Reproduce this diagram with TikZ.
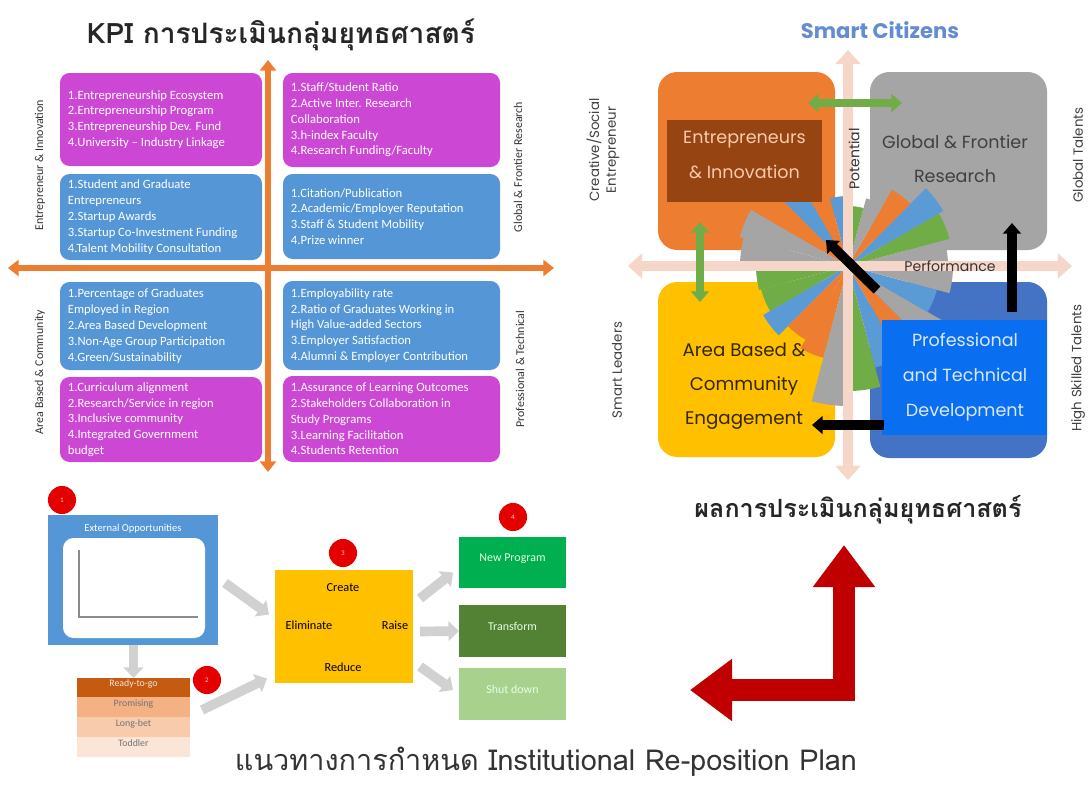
\documentclass[tikz,border=0pt]{standalone}
\usepackage{fontspec}
\setmainfont{Carlito}
\newfontfamily\thaifont[Script=Thai]{Loma}
\newfontfamily\geofont{Poppins}
\usetikzlibrary{positioning,arrows.meta,fit,calc}

\definecolor{kpimag}{RGB}{204,72,212}
\definecolor{kpiblue}{RGB}{84,150,214}
\definecolor{axorange}{RGB}{237,125,49}
\definecolor{qorange}{RGB}{237,125,49}
\definecolor{qgray}{RGB}{165,165,165}
\definecolor{qyellow}{RGB}{255,192,0}
\definecolor{qblue}{RGB}{68,114,196}
\definecolor{qgreen}{RGB}{112,173,71}
\definecolor{wblue}{RGB}{91,155,213}
\definecolor{brownbox}{RGB}{150,68,18}
\definecolor{brightblue}{RGB}{10,110,240}
\definecolor{paleaxis}{RGB}{246,214,200}
\definecolor{darkred}{RGB}{192,0,0}
\definecolor{rowA}{RGB}{197,90,17}
\definecolor{rowB}{RGB}{244,177,131}
\definecolor{rowC}{RGB}{248,203,173}
\definecolor{rowD}{RGB}{251,229,214}
\definecolor{gNew}{RGB}{0,176,80}
\definecolor{gTrans}{RGB}{84,130,53}
\definecolor{gShut}{RGB}{169,209,142}
\definecolor{citizenblue}{RGB}{100,140,210}

\begin{document}
\begin{tikzpicture}[x=0.02cm, y=-0.02cm,
  every node/.style={inner sep=0pt, outer sep=0pt},
  kpibox/.style={rounded corners=5.5pt, inner sep=0pt},
  kpitext/.style={anchor=west, align=left, text=white,
                  font=\fontsize{7.2}{9}\selectfont},
  sidelabel/.style={rotate=90, text=black!80, font=\fontsize{6.8}{8}\selectfont},
  rightlabel/.style={rotate=90, align=center, text=black!75,
                     font=\geofont\fontsize{7.6}{9.5}\selectfont},
  quad/.style={rounded corners=11pt, inner sep=0pt},
  orangeaxis/.style={draw=axorange, line width=3.4pt, <->,
                     >={Triangle[width=9pt,length=6pt]}},
  paleaxisline/.style={draw=paleaxis, line width=5.5pt, <->,
                       >={Triangle[width=14pt,length=8pt]}},
  greenarrow/.style={draw=qgreen, line width=5pt, <->,
                     >={Triangle[width=10pt,length=6pt]}},
  blackarrow/.style={draw=black, line width=5.5pt, ->,
                     >={Triangle[width=10pt,length=6pt]}},
  grayarrow/.style={draw=black!18, line width=5.5pt, ->,
                    >={Triangle[width=11pt,length=6pt]}},
  redarrow/.style={draw=darkred, line width=12.5pt, <->, line join=miter,
                   >={Triangle[width=34pt,length=24pt]}},
  redDot/.style={circle, fill=red!90!black, minimum size=16pt, text=white!80!red,
                 font=\fontsize{4}{4}\selectfont},
  tblrow/.style={inner sep=0pt, font=\fontsize{5.6}{6}\selectfont},
  greenbox/.style={inner sep=0pt, text=white!90!green,
                   font=\fontsize{6.8}{8}\selectfont}
]
\useasboundingbox (0,0) rectangle (1089,792);
\fill[white] (0,0) rectangle (1089,792);

% ---------- KPI quadrants ----------
\node[font=\thaifont\bfseries\fontsize{16}{18}\selectfont, text=black!85]
  (kpiTitle) at (281,35) {KPI การประเมินกลุ่มยุทธศาสตร์};

\node[kpibox, fill=kpimag, fit={(60,73) (262,166)}] (eiMag) {};
\node[kpibox, fill=kpiblue, fit={(60,174) (262,260)}] (eiBlue) {};
\node[kpibox, fill=kpimag, fit={(283,73) (500,167)}] (gfMag) {};
\node[kpibox, fill=kpiblue, fit={(283,174) (500,259)}] (gfBlue) {};
\node[kpibox, fill=kpiblue, fit={(60,282) (262,370)}] (abBlue) {};
\node[kpibox, fill=kpimag, fit={(60,377) (262,462)}] (abMag) {};
\node[kpibox, fill=kpiblue, fit={(283,281) (500,370)}] (ptBlue) {};
\node[kpibox, fill=kpimag, fit={(283,376) (500,462)}] (ptMag) {};

\node[kpitext] (eiMagTxt) at ([xshift=4.5pt]eiMag.west)
  {1.Entrepreneurship Ecosystem\\2.Entrepreneurship Program\\
   3.Entrepreneurship Dev. Fund\\4.University -- Industry Linkage};
\node[kpitext] (eiBlueTxt) at ([xshift=4.5pt]eiBlue.west)
  {1.Student and Graduate\\Entrepreneurs\\2.Startup Awards\\
   3.Startup Co-Investment Funding\\4.Talent Mobility Consultation};
\node[kpitext] (gfMagTxt) at ([xshift=4.5pt]gfMag.west)
  {1.Staff/Student Ratio\\2.Active Inter. Research\\Collaboration\\
   3.h-index Faculty\\4.Research Funding/Faculty};
\node[kpitext] (gfBlueTxt) at ([xshift=4.5pt]gfBlue.west)
  {1.Citation/Publication\\2.Academic/Employer Reputation\\
   3.Staff \& Student Mobility\\4.Prize winner};
\node[kpitext] (abBlueTxt) at ([xshift=4.5pt]abBlue.west)
  {1.Percentage of Graduates\\Employed in Region\\2.Area Based Development\\
   3.Non-Age Group Participation\\4.Green/Sustainability};
\node[kpitext] (abMagTxt) at ([xshift=4.5pt]abMag.west)
  {1.Curriculum alignment\\2.Research/Service in region\\
   3.Inclusive community\\4.Integrated Government\\budget};
\node[kpitext] (ptBlueTxt) at ([xshift=4.5pt]ptBlue.west)
  {1.Employability rate\\2.Ratio of Graduates Working in\\
   High Value-added Sectors\\3.Employer Satisfaction\\
   4.Alumni \& Employer Contribution};
\node[kpitext] (ptMagTxt) at ([xshift=4.5pt]ptMag.west)
  {1.Assurance of Learning Outcomes\\2.Stakeholders Collaboration in\\
   Study Programs\\3.Learning Facilitation\\4.Students Retention};

\coordinate (kpiTop) at (268,60);
\coordinate (kpiBottom) at (268,472);
\coordinate (kpiLeft) at (8,268);
\coordinate (kpiRight) at (554,268);
\draw[orangeaxis] (kpiTop) -- (kpiBottom);
\draw[orangeaxis] (kpiLeft) -- (kpiRight);

\node[sidelabel] (eiSide) at (40,165) {Entrepreneur \& Innovation};
\node[sidelabel] (gfSide) at (518,167) {Global \& Frontier Research};
\node[sidelabel] (abSide) at (40,372) {Area Based \& Community};
\node[sidelabel] (ptSide) at (520,369) {Professional \& Technical};

% ---------- re-position flow ----------
\node[fill=kpiblue, fit={(48,515) (218,645)}] (extBox) {};
\node[text=white, font=\fontsize{6}{7}\selectfont] (extTitle) at (133,529)
  {External Opportunities};
\node[fill=white, rounded corners=6pt, fit={(63,538) (205,638)}] (extChart) {};
\draw[black!45, line width=0.6pt] (79,550) -- (79,617) -- (198,617);

\node[tblrow, fill=rowA, text=white!85!rowA, fit={(77,678) (190,697)}] (rowReady) {Ready-to-go};
\node[tblrow, fill=rowB, text=black!55, fit={(77,697) (190,717)}] (rowProm) {Promising};
\node[tblrow, fill=rowC, text=black!55, fit={(77,717) (190,737)}] (rowLong) {Long-bet};
\node[tblrow, fill=rowD, text=black!55, fit={(77,737) (190,757)}] (rowTod) {Toddler};

\node[fill=qyellow, fit={(275,570) (413,683)}] (errcBox) {};
\node[font=\fontsize{7}{8}\selectfont] (errcCreate) at (343,588) {Create};
\node[font=\fontsize{7}{8}\selectfont] (errcElim) at (309,625) {Eliminate};
\node[font=\fontsize{7}{8}\selectfont] (errcRaise) at (395,625) {Raise};
\node[font=\fontsize{7}{8}\selectfont] (errcReduce) at (343,667) {Reduce};

\node[greenbox, fill=gNew, fit={(459,537) (566,588)}] (newProg) {New Program};
\node[greenbox, fill=gTrans, fit={(459,605) (566,657)}] (transProg) {Transform};
\node[greenbox, fill=gShut, fit={(459,668) (566,720)}] (shutProg) {Shut down};

\node[redDot] (dotOne) at (62,500) {1};
\node[redDot] (dotTwo) at (207,680) {2};
\node[redDot] (dotThree) at (343,553) {3};
\node[redDot] (dotFour) at (513,517) {4};

\draw[grayarrow] (extBox.south -| rowReady) -- (rowReady.north);
\draw[grayarrow] ($(extBox.east)+(7,3)$) -- ($(errcBox.west)+(-6,-12)$);
\draw[grayarrow] ($(rowProm.east)+(12,3)$) -- ($(errcBox.west)+(-8,52)$);
\draw[grayarrow] ($(errcBox.east)+(7,-28)$) -- ($(newProg.west)+(-6,10)$);
\draw[grayarrow] ($(errcBox.east)+(7,5)$) -- (transProg.west);
\draw[grayarrow] ($(errcBox.east)+(7,40)$) -- ($(shutProg.west)+(-6,-4)$);

% ---------- big red arrow ----------
\coordinate (redLeft) at (690,690);
\coordinate (redCorner) at (844,690);
\coordinate (redTop) at (844,545);
\draw[redarrow] (redLeft) -- (redCorner) -- (redTop);

\node[font=\thaifont\fontsize{16.4}{20}\selectfont, text=black!80]
  (planTitle) at (546,762) {แนวทางการกำหนด Institutional Re-position Plan};

% ---------- strategic groups ----------
\node[font=\geofont\bfseries\fontsize{12}{14}\selectfont, text=citizenblue]
  (citizens) at (880,30) {Smart Citizens};

\node[quad, fill=qorange, fit={(658,72) (835,250)}] (eiQ) {};
\node[quad, fill=qgray, fit={(870,72) (1047,250)}] (gfQ) {};
\node[quad, fill=qyellow, fit={(658,282) (835,457)}] (abQ) {};
\node[quad, fill=qblue, fit={(870,282) (1047,458)}] (ptQ) {};

\coordinate (fanCenter) at (848,266);
\foreach \a/\r/\c in {0/100/qgray, 15/105/qgreen, 30/110/wblue, 45/88/qorange,
    60/70/qgray, 75/60/qgreen, 90/70/wblue, 105/80/qorange,
    120/105/wblue, 135/115/qorange, 150/112/qgray, 165/108/qgray,
    180/92/qgreen, 195/90/qgreen, 210/98/wblue, 225/85/qorange,
    240/95/qorange, 255/140/qgray, 270/125/qgreen, 285/105/wblue,
    300/95/qorange, 315/110/qgray, 330/92/wblue, 345/105/qgray}
  \fill[\c] (fanCenter) -- ++(-\a:\r) arc (-\a:-\a-15:\r) -- cycle;

\coordinate (axTop) at (848,50);
\coordinate (axBottom) at (848,480);
\coordinate (axLeft) at (628,266);
\coordinate (axRight) at (1072,266);
\draw[paleaxisline] (axTop) -- (axBottom);
\draw[paleaxisline] (axLeft) -- (axRight);

\node[fill=brownbox, align=center, text=rowC,
      font=\geofont\fontsize{10}{19.5}\selectfont, fit={(667,120) (822,202)}]
  (eiBox) {Entrepreneurs\\\& Innovation};
\node[align=center, text=black!75, font=\geofont\fontsize{10}{19}\selectfont]
  (gfTxt) at (955,159) {Global \& Frontier\\Research};
\node[align=center, text=black!80!qyellow, font=\geofont\fontsize{10.4}{19.5}\selectfont]
  (abTxt) at (744,386) {Area Based \&\\Community\\Engagement};
\node[fill=brightblue, fit={(882,320) (1047,435)}] (ptBox) {};
\node[align=center, text=white!85!brightblue,
      font=\geofont\fontsize{10}{20}\selectfont] (ptTxt) at (965,377)
  {Professional\\and Technical\\Development};

\node[rotate=90, text=black!80, font=\geofont\fontsize{8}{9}\selectfont]
  (potential) at (854,159) {Potential};
\node[text=black!80, font=\geofont\fontsize{8}{9}\selectfont]
  (performance) at (950,266) {Performance};

\coordinate (eiGfLeft) at (808,103);
\coordinate (eiGfRight) at (902,103);
\coordinate (eiAbTop) at (700,222);
\coordinate (eiAbBottom) at (700,302);
\draw[greenarrow] (eiGfLeft) -- (eiGfRight);
\draw[greenarrow] (eiAbTop) -- (eiAbBottom);

\coordinate (diagTail) at (877,290);
\coordinate (diagTip) at (826,240);
\coordinate (upTail) at (1012,312);
\coordinate (upTip) at (1012,223);
\coordinate (leftTail) at (884,425);
\coordinate (leftTip) at (812,425);
\draw[blackarrow] (diagTail) -- (diagTip);
\draw[blackarrow] (upTail) -- (upTip);
\draw[blackarrow] (leftTail) -- (leftTip);

\node[rightlabel] (creativeLbl) at (603,150) {Creative/Social\\Entrepreneur};
\node[rightlabel] (globalLbl) at (1078,155) {Global Talents};
\node[rightlabel] (leadersLbl) at (617,370) {Smart Leaders};
\node[rightlabel] (skilledLbl) at (1078,368) {High Skilled Talents};

\node[font=\thaifont\bfseries\fontsize{14.3}{18}\selectfont, text=black!85]
  (resultTitle) at (858,510) {ผลการประเมินกลุ่มยุทธศาสตร์};
\end{tikzpicture}
\end{document}
